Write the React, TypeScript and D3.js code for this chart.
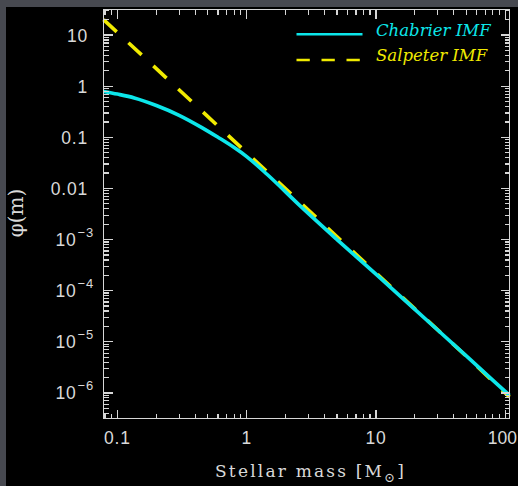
import React from "react";
import * as d3 from "d3";

// ---- data ----
const chabrierMass = [0.078, 0.1, 0.135, 0.2, 0.3, 0.45, 0.6, 0.8, 1.0, 1.45, 2.63, 5, 10, 20, 50, 100, 108];
const chabrierPhi = [0.79, 0.7, 0.59, 0.42, 0.27, 0.155, 0.1, 0.063, 0.042, 0.0185, 0.0044, 0.001, 2.1e-4, 4.3e-5, 5.3e-6, 1.07e-6, 9.0e-7];

const salpeterMass = [0.078, 0.1, 1, 10, 100, 108];
const salpeterPhi = [20, 11.2, 0.05, 2.23e-4, 1.0e-6, 8.3e-7];

const xDomain = [0.078, 108];
const yDomain = [Math.pow(10, -6.5), Math.pow(10, 1.5)];

const xMajorTicks = [0.1, 1, 10, 100];
const xTickLabels = ["0.1", "1", "10", "100"];
const yMajorTicks = [10, 1, 0.1, 0.01, 1e-3, 1e-4, 1e-5, 1e-6];
const yTickBase = ["10", "1", "0.1", "0.01", "10", "10", "10", "10"];
const yTickSup = ["", "", "", "", "−3", "−4", "−5", "−6"];

const seriesNames = ["Chabrier IMF", "Salpeter IMF"];
const xTitle = "Stellar mass [M";
const xTitleSub = "⊙";
const yTitle = "φ(m)";

// ---- layout / style ----
const W = 518;
const H = 486;
const left = 103.5;
const right = 509.5;
const top = 9.5;
const bottom = 418.5;
const CYAN = "#0ce6ea";
const YELLOW = "#f0ea00";
const AXIS = "#d6d6d6";
const LABEL = "#d9d9d9";

function minorTicks(domain: number[]): number[] {
  const out: number[] = [];
  const lo = Math.floor(Math.log10(domain[0]));
  const hi = Math.ceil(Math.log10(domain[1]));
  for (let e = lo; e <= hi; e++) {
    for (let k = 2; k <= 9; k++) {
      const v = k * Math.pow(10, e);
      if (v >= domain[0] && v <= domain[1]) out.push(v);
    }
  }
  return out;
}

export default function App() {
  const x = d3.scaleLog().domain(xDomain).range([left, right]);
  const y = d3.scaleLog().domain(yDomain).range([bottom, top]);

  const line = d3
    .line<[number, number]>()
    .x((d) => x(d[0]))
    .y((d) => y(d[1]))
    .curve(d3.curveMonotoneX);

  const chab = line(chabrierMass.map((m, i) => [m, chabrierPhi[i]] as [number, number])) || "";
  const salp = line(salpeterMass.map((m, i) => [m, salpeterPhi[i]] as [number, number])) || "";

  const xMinor = minorTicks(xDomain);
  const yMinor = minorTicks(yDomain);
  const MAJ = 9;
  const MIN = 5;

  return (
    <svg
      width={W}
      height={H}
      style={{ position: "absolute", left: 0, top: 0, display: "block" }}
    >
      <rect x={0} y={0} width={W} height={H} fill="#474950" />
      <rect x={6} y={7} width={W - 6} height={H - 7} fill="#000" />

      {/* curves */}
      <path d={salp} fill="none" stroke={YELLOW} strokeWidth={3.6} strokeDasharray="18 16" />
      <path d={chab} fill="none" stroke={CYAN} strokeWidth={3.6} />

      {/* frame + ticks */}
      <g stroke={AXIS} strokeWidth={1.2} shapeRendering="crispEdges">
        <rect x={left} y={top} width={right - left} height={bottom - top} fill="none" />
        {xMajorTicks.map((t, i) => (
          <g key={"xm" + i}>
            <line x1={x(t)} x2={x(t)} y1={bottom} y2={bottom - MAJ} />
            <line x1={x(t)} x2={x(t)} y1={top} y2={top + MAJ} />
          </g>
        ))}
        {xMinor.map((t, i) => (
          <g key={"xn" + i}>
            <line x1={x(t)} x2={x(t)} y1={bottom} y2={bottom - MIN} />
            <line x1={x(t)} x2={x(t)} y1={top} y2={top + MIN} />
          </g>
        ))}
        {yMajorTicks.map((t, i) => (
          <g key={"ym" + i}>
            <line x1={left} x2={left + MAJ} y1={y(t)} y2={y(t)} />
            <line x1={right} x2={right - MAJ} y1={y(t)} y2={y(t)} />
          </g>
        ))}
        {yMinor.map((t, i) => (
          <g key={"yn" + i}>
            <line x1={left} x2={left + MIN} y1={y(t)} y2={y(t)} />
            <line x1={right} x2={right - MIN} y1={y(t)} y2={y(t)} />
          </g>
        ))}
      </g>

      {/* tick labels */}
      <g fill={LABEL} fontFamily="'Liberation Sans', Arial, sans-serif" fontSize={17.5} letterSpacing={0.8}>
        {xMajorTicks.map((t, i) => {
          const px = x(t);
          const last = i === xMajorTicks.length - 1;
          return (
            <text
              key={"xl" + i}
              x={last ? 517 : px}
              y={443.5}
              textAnchor={last ? "end" : "middle"}
              letterSpacing={last ? 0 : 0.8}
            >
              {xTickLabels[i]}
            </text>
          );
        })}
        {yMajorTicks.map((t, i) =>
          yTickSup[i] === "" ? (
            <text key={"yl" + i} x={88} y={y(t) + 6.8} textAnchor="end">
              {yTickBase[i]}
            </text>
          ) : (
            <text key={"yl" + i} x={94} y={y(t) + 6.3} textAnchor="end">
              {yTickBase[i]}
              <tspan fontSize={13} dy={-9} dx={1}>
                {yTickSup[i]}
              </tspan>
            </text>
          )
        )}
      </g>

      {/* axis titles */}
      <text
        x={215}
        y={476.5}
        fill={LABEL}
        fontFamily="'DejaVu Serif', serif"
        fontSize={17}
        letterSpacing={2.2}
      >
        {xTitle}
        <tspan fontSize={13} dy={5}>
          {xTitleSub}
        </tspan>
        <tspan dy={-5}>]</tspan>
      </text>
      <text
        transform="translate(23,213) rotate(-90)"
        textAnchor="middle"
        fill={LABEL}
        fontFamily="'DejaVu Serif', serif"
        fontSize={20}
      >
        {yTitle}
      </text>

      {/* legend */}
      <line x1={296.5} x2={362.5} y1={34.3} y2={34.3} stroke={CYAN} strokeWidth={2.6} />
      <line x1={296.5} x2={360} y1={60} y2={60} stroke={YELLOW} strokeWidth={2.6} strokeDasharray="13.3 11.7" />
      <g fontFamily="'DejaVu Serif', serif" fontStyle="italic" fontSize={16.5}>
        <text x={376} y={35.7} fill={CYAN}>
          {seriesNames[0]}
        </text>
        <text x={376} y={61} fill={YELLOW}>
          {seriesNames[1]}
        </text>
      </g>
    </svg>
  );
}
